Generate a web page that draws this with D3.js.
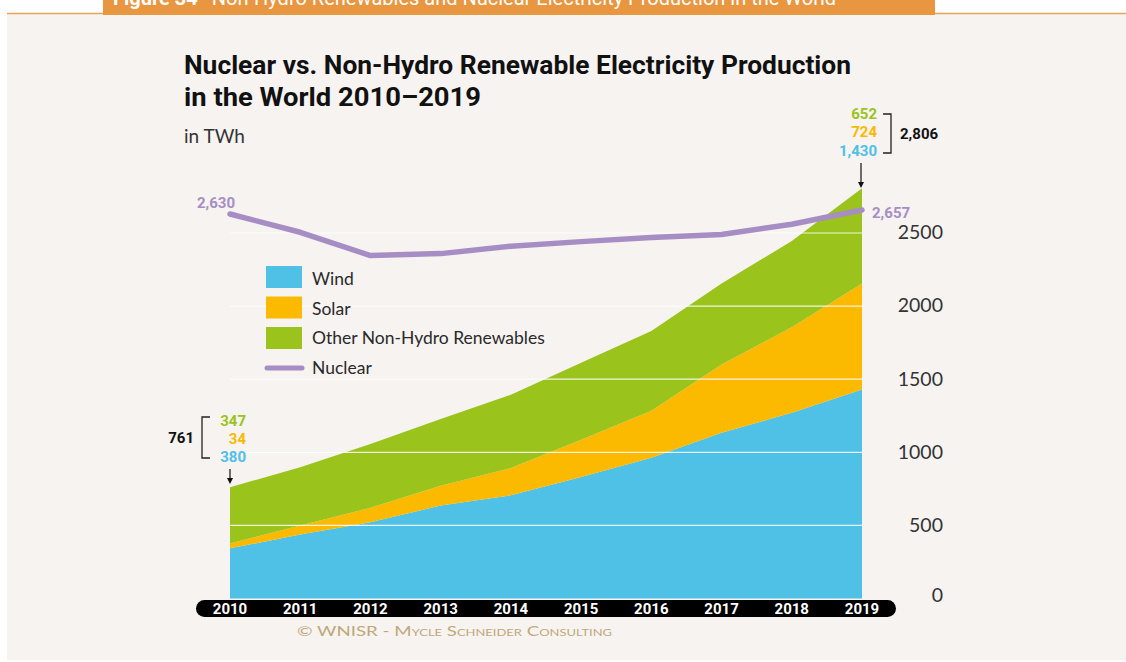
<!DOCTYPE html>
<html>
<head>
<meta charset="utf-8">
<script src="https://cdn.jsdelivr.net/npm/d3@7"></script>
<style>
  body { margin: 0; background: #ffffff; }
  svg { display: block; }
</style>
</head>
<body>
<div id="chart"></div>
<script>
// data (TWh)
var years = [2010, 2011, 2012, 2013, 2014, 2015, 2016, 2017, 2018, 2019];
var wind = [343, 437, 521, 636, 706, 831, 962, 1134, 1270, 1430];
var solar = [34, 63, 99, 136, 187, 254, 323, 466, 585, 724];
var other = [384, 398, 436, 456, 501, 528, 545, 554, 590, 652];
var nuclear = [2630, 2505, 2346, 2359, 2410, 2441, 2470, 2490, 2560, 2657];
var yTicks = [0, 500, 1000, 1500, 2000, 2500];
var seriesNames = ["Wind", "Solar", "Other Non-Hydro Renewables", "Nuclear"];

var colors = {
    wind: "#4fc0e6",
    solar: "#fbb900",
    other: "#9ac31c",
    nuclear: "#a68ec5"
};

var width = 1126, height = 662;

var svg = d3.select("#chart").append("svg")
    .attr("width", width)
    .attr("height", height);

// page background
svg.append("rect").attr("x", 7).attr("y", 14).attr("width", width - 7).attr("height", 646)
    .attr("fill", "#f6f3f1");
svg.append("line").attr("x1", 7).attr("x2", width).attr("y1", 13.5).attr("y2", 13.5)
    .attr("stroke", "#e8a35a").attr("stroke-width", 1.5);

// figure header (cut off at top, as in the source page)
svg.append("rect").attr("x", 103).attr("y", 0).attr("width", 832).attr("height", 15)
    .attr("fill", "#e8963f");
var head = svg.append("text")
    .attr("x", 113).attr("y", 5)
    .attr("font-family", "Roboto, 'Open Sans', sans-serif")
    .attr("font-size", "20px")
    .attr("fill", "#ffffff");
head.append("tspan").attr("font-weight", "bold").text("Figure 34");
head.append("tspan").attr("dx", 14).text("Non-Hydro Renewables and Nuclear Electricity Production in the World");

// title
svg.append("text")
    .attr("x", 184).attr("y", 74)
    .attr("font-family", "Roboto, sans-serif").attr("font-weight", "bold")
    .attr("font-size", "25px").attr("fill", "#111")
    .attr("textLength", 667).attr("lengthAdjust", "spacingAndGlyphs")
    .text("Nuclear vs. Non-Hydro Renewable Electricity Production");
svg.append("text")
    .attr("x", 184).attr("y", 106)
    .attr("font-family", "Roboto, sans-serif").attr("font-weight", "bold")
    .attr("font-size", "25px").attr("fill", "#111")
    .attr("textLength", 297).attr("lengthAdjust", "spacingAndGlyphs")
    .text("in the World 2010\u20132019");
svg.append("text")
    .attr("x", 184).attr("y", 143)
    .attr("font-family", "Lato, sans-serif")
    .attr("font-size", "19px").attr("fill", "#333")
    .text("in TWh");

// scales
var x = d3.scaleLinear().domain([2010, 2019]).range([230, 862]);
var y = d3.scaleLinear().domain([0, 2500]).range([598.5, 233]);

var table = years.map(function (yr, i) {
    return { year: yr, wind: wind[i], solar: solar[i], other: other[i] };
});
var stacked = d3.stack().keys(["wind", "solar", "other"])(table);

var area = d3.area()
    .x(function (d) { return x(d.data.year); })
    .y0(function (d) { return y(d[0]); })
    .y1(function (d) { return y(d[1]); });

svg.selectAll(".layer")
    .data(stacked)
    .enter().append("path")
    .attr("class", "layer")
    .attr("d", area)
    .attr("fill", function (d) { return colors[d.key]; });

// white gridlines over the areas
svg.selectAll(".grid")
    .data(yTicks.filter(function (t) { return t > 0; }))
    .enter().append("line")
    .attr("x1", x(2010)).attr("x2", x(2019))
    .attr("y1", function (d) { return y(d); })
    .attr("y2", function (d) { return y(d); })
    .attr("stroke", "#ffffff").attr("stroke-width", 1.2).attr("opacity", 0.85);

// right axis labels
var yAxis = svg.append("g")
    .attr("transform", "translate(943,0)")
    .call(d3.axisRight(y).tickValues(yTicks).tickSize(0).tickPadding(0).tickFormat(d3.format("d")));
yAxis.select(".domain").remove();
yAxis.selectAll("text")
    .attr("text-anchor", "end")
    .attr("dy", "0.3em")
    .attr("font-family", "Lato, sans-serif")
    .attr("font-size", "19.5px").attr("fill", "#333");
yAxis.selectAll(".tick").filter(function (d) { return d === 0; })
    .select("text").attr("dy", "0.15em");

// nuclear line
var line = d3.line()
    .x(function (d, i) { return x(years[i]); })
    .y(function (d) { return y(d); });
svg.append("path")
    .datum(nuclear)
    .attr("d", line)
    .attr("fill", "none")
    .attr("stroke", colors.nuclear)
    .attr("stroke-width", 5.5)
    .attr("stroke-linecap", "round")
    .attr("stroke-linejoin", "round");

// x axis bar
svg.append("rect")
    .attr("x", 196).attr("y", 600).attr("width", 700).attr("height", 17)
    .attr("rx", 8.5).attr("fill", "#000");
svg.selectAll(".year")
    .data(years)
    .enter().append("text")
    .attr("x", function (d) { return x(d); })
    .attr("y", 614)
    .attr("text-anchor", "middle")
    .attr("font-family", "Roboto, sans-serif").attr("font-weight", "bold")
    .attr("font-size", "15px").attr("fill", "#fff")
    .text(function (d) { return d; });

// copyright
svg.append("text")
    .attr("x", 297).attr("y", 636)
    .attr("font-family", "Lato, sans-serif")
    .attr("font-size", "13px").attr("fill", "#bfa978")
    .attr("font-variant", "small-caps")
    .attr("textLength", 315).attr("lengthAdjust", "spacingAndGlyphs")
    .text("\u00a9 WNISR - Mycle Schneider Consulting");

// legend
var legend = svg.append("g").attr("transform", "translate(266,266)");
var swatchKeys = ["wind", "solar", "other"];
swatchKeys.forEach(function (k, i) {
    legend.append("rect")
        .attr("x", 0).attr("y", i * 30.5)
        .attr("width", 36).attr("height", 22)
        .attr("fill", colors[k]);
});
legend.append("line")
    .attr("x1", 1).attr("x2", 36).attr("y1", 102).attr("y2", 102)
    .attr("stroke", colors.nuclear).attr("stroke-width", 5).attr("stroke-linecap", "round");
legend.selectAll(".ltext")
    .data(seriesNames)
    .enter().append("text")
    .attr("x", 46)
    .attr("y", function (d, i) { return 19 + i * 29.5; })
    .attr("font-family", "Lato, sans-serif")
    .attr("font-size", "17.5px").attr("fill", "#2a2a2a")
    .text(function (d) { return d; });

// annotations
var annFont = "Roboto, sans-serif";
function ann(tx, ty, txt, col, anchor) {
    svg.append("text")
        .attr("x", tx).attr("y", ty)
        .attr("text-anchor", anchor || "end")
        .attr("font-family", annFont).attr("font-weight", "bold")
        .attr("font-size", "15px").attr("fill", col)
        .text(txt);
}
function arrow(ax, y1, y2) {
    svg.append("line").attr("x1", ax).attr("x2", ax).attr("y1", y1).attr("y2", y2 - 4)
        .attr("stroke", "#111").attr("stroke-width", 1.2);
    svg.append("path")
        .attr("d", "M" + (ax - 3) + "," + (y2 - 6) + "L" + (ax + 3) + "," + (y2 - 6) + "L" + ax + "," + y2 + "Z")
        .attr("fill", "#111");
}
function bracket(bx, y1, y2, dir) {
    svg.append("path")
        .attr("d", "M" + (bx + dir * 8) + "," + y1 + "H" + bx + "V" + y2 + "H" + (bx + dir * 8))
        .attr("fill", "none").attr("stroke", "#222").attr("stroke-width", 1.3);
}

ann(235, 208, d3.format(",")(nuclear[0]), colors.nuclear);
ann(872, 218, d3.format(",")(nuclear[9]), colors.nuclear, "start");

// 2010 stack
ann(194, 443, "761", "#111");
bracket(202, 417, 458, 1);
ann(246, 426, "347", colors.other);
ann(246, 444, "34", colors.solar);
ann(246, 462, "380", colors.wind);
arrow(230, 469, 484);

// 2019 stack
ann(877, 119, "652", colors.other);
ann(877, 137, "724", colors.solar);
ann(877, 156, "1,430", colors.wind);
bracket(891, 114, 153, -1);
ann(900, 139, "2,806", "#111", "start");
arrow(861, 163, 188);
</script>
</body>
</html>
